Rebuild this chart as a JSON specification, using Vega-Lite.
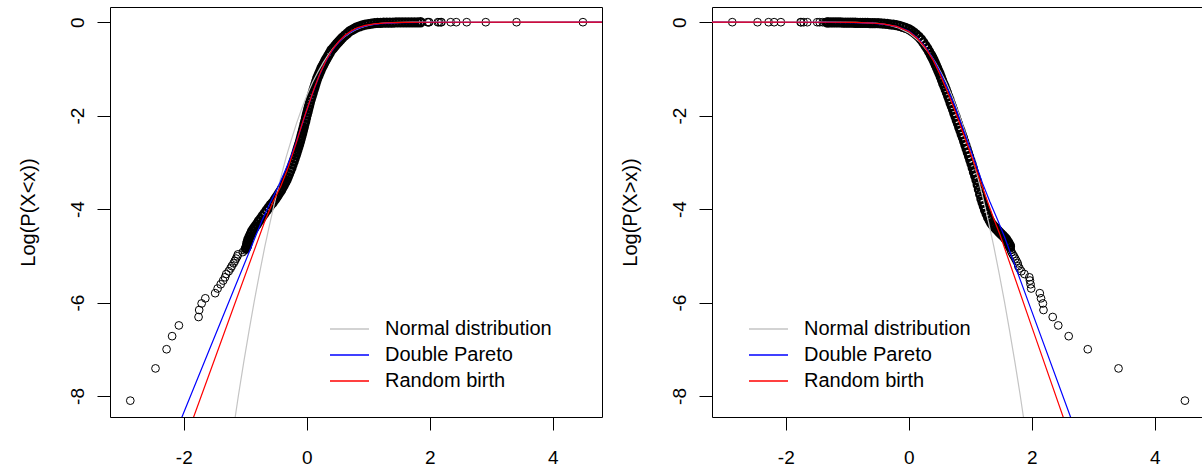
{
"$schema": "https://vega.github.io/schema/vega-lite/v6.json",
"background": "white",
"padding": {"left": 17, "top": 6, "right": 0, "bottom": 0},
"config": {
 "view": {"stroke": "black", "strokeWidth": 1},
 "font": "Liberation Sans",
 "axis": {"grid": false, "domain": false, "tickColor": "black", "tickSize": 13, "tickWidth": 1, "labelColor": "black", "labelFontSize": 19, "labelFont": "Liberation Sans", "titleFont": "Liberation Sans", "titleFontSize": 20, "titleFontWeight": "normal", "titleColor": "black", "labelExpr": "'' + datum.value"},
 "axisX": {"labelPadding": 18},
 "axisY": {"labelPadding": 10, "titlePadding": 30},
 "legend": {"orient": "none", "symbolType": "stroke", "symbolSize": 1521, "symbolStrokeWidth": 1.3, "symbolOpacity": 1, "labelFontSize": 20, "labelFont": "Liberation Sans", "labelColor": "black", "labelOffset": 15, "labelLimit": 0, "clipHeight": 20, "rowPadding": 6, "padding": 0},
 "concat": {"spacing": 16}
},
"datasets": {
 "lowSparse": [
  {"x":-2.87,"y":-8.10},{"x":-2.46,"y":-7.41},{"x":-2.28,"y":-7.00},{"x":-2.19,"y":-6.72},{"x":-2.08,"y":-6.49},{"x":-1.76,"y":-6.31},{"x":-1.75,"y":-6.16},{"x":-1.71,"y":-6.02},{"x":-1.65,"y":-5.91},{"x":-1.49,"y":-5.80},
  {"x":-1.45,"y":-5.70},{"x":-1.40,"y":-5.61},{"x":-1.36,"y":-5.53},{"x":-1.33,"y":-5.46},{"x":-1.31,"y":-5.39},{"x":-1.27,"y":-5.33},{"x":-1.24,"y":-5.27},{"x":-1.22,"y":-5.22},{"x":-1.19,"y":-5.16},{"x":-1.17,"y":-5.11},
  {"x":-1.15,"y":-5.06},{"x":-1.13,"y":-5.01},{"x":-1.12,"y":-4.97},{"x":-1.04,"y":-4.92},{"x":-1.01,"y":-4.88},
  {"x":1.96,"y":-0.001},{"x":1.98,"y":-0.0009},{"x":1.99,"y":-0.0008},{"x":2.13,"y":-0.0007},{"x":2.15,"y":-0.0006},{"x":2.18,"y":-0.0005},{"x":2.19,"y":-0.0004},
  {"x":2.34,"y":-0.0004},{"x":2.43,"y":-0.0003},{"x":2.60,"y":-0.0002},{"x":2.91,"y":-0.0002},{"x":3.41,"y":-0.0001},{"x":4.49,"y":0.0}
 ],
 "lowBand": [
  {"x":-0.99,"y":-4.84},{"x":-0.975,"y":-4.80},{"x":-0.97,"y":-4.77},{"x":-0.965,"y":-4.73},{"x":-0.96,"y":-4.70},
  {"x":-0.95,"y":-4.65},{"x":-0.93,"y":-4.59},{"x":-0.91,"y":-4.53},{"x":-0.89,"y":-4.47},{"x":-0.863,"y":-4.42},{"x":-0.837,"y":-4.37},{"x":-0.81,"y":-4.32},{"x":-0.78,"y":-4.26},{"x":-0.75,"y":-4.21},{"x":-0.72,"y":-4.15},
  {"x":-0.687,"y":-4.09},{"x":-0.653,"y":-4.03},{"x":-0.62,"y":-3.97},{"x":-0.587,"y":-3.91},{"x":-0.553,"y":-3.86},{"x":-0.52,"y":-3.80},{"x":-0.495,"y":-3.75},{"x":-0.47,"y":-3.70},{"x":-0.445,"y":-3.65},{"x":-0.42,"y":-3.60},
  {"x":-0.398,"y":-3.545},{"x":-0.375,"y":-3.49},{"x":-0.353,"y":-3.435},{"x":-0.33,"y":-3.38},{"x":-0.31,"y":-3.315},{"x":-0.29,"y":-3.25},{"x":-0.27,"y":-3.185},{"x":-0.25,"y":-3.12},{"x":-0.233,"y":-3.05},{"x":-0.215,"y":-2.985},
  {"x":-0.198,"y":-2.92},{"x":-0.18,"y":-2.85},{"x":-0.166,"y":-2.79},{"x":-0.152,"y":-2.73},{"x":-0.138,"y":-2.67},{"x":-0.124,"y":-2.61},{"x":-0.11,"y":-2.55},{"x":-0.098,"y":-2.49},{"x":-0.086,"y":-2.43},{"x":-0.074,"y":-2.37},
  {"x":-0.062,"y":-2.31},{"x":-0.05,"y":-2.25},{"x":-0.038,"y":-2.18},{"x":-0.025,"y":-2.12},{"x":-0.013,"y":-2.05},{"x":0.0,"y":-1.98},{"x":0.013,"y":-1.915},{"x":0.025,"y":-1.85},{"x":0.038,"y":-1.785},{"x":0.05,"y":-1.72},
  {"x":0.065,"y":-1.65},{"x":0.08,"y":-1.585},{"x":0.095,"y":-1.52},{"x":0.11,"y":-1.45},{"x":0.125,"y":-1.39},{"x":0.14,"y":-1.325},{"x":0.155,"y":-1.26},{"x":0.17,"y":-1.20},{"x":0.188,"y":-1.145},{"x":0.205,"y":-1.09},
  {"x":0.223,"y":-1.035},{"x":0.24,"y":-0.98},{"x":0.26,"y":-0.93},{"x":0.28,"y":-0.88},{"x":0.30,"y":-0.83},{"x":0.32,"y":-0.78},{"x":0.347,"y":-0.72},{"x":0.373,"y":-0.66},{"x":0.40,"y":-0.60},{"x":0.43,"y":-0.553},
  {"x":0.46,"y":-0.507},{"x":0.49,"y":-0.46},{"x":0.52,"y":-0.417},{"x":0.55,"y":-0.373},{"x":0.58,"y":-0.33},{"x":0.62,"y":-0.283},{"x":0.66,"y":-0.237},{"x":0.70,"y":-0.19},{"x":0.737,"y":-0.163},{"x":0.773,"y":-0.137},
  {"x":0.81,"y":-0.11},{"x":0.857,"y":-0.09},{"x":0.903,"y":-0.07},{"x":0.95,"y":-0.05},{"x":1.0,"y":-0.04},{"x":1.05,"y":-0.03},{"x":1.10,"y":-0.02},{"x":1.15,"y":-0.016},{"x":1.2,"y":-0.013},{"x":1.25,"y":-0.011},
  {"x":1.3,"y":-0.009},{"x":1.35,"y":-0.008},{"x":1.4,"y":-0.007},{"x":1.45,"y":-0.006},{"x":1.5,"y":-0.005},{"x":1.55,"y":-0.004},{"x":1.6,"y":-0.0035},{"x":1.65,"y":-0.003},{"x":1.7,"y":-0.0025},{"x":1.75,"y":-0.002},
  {"x":1.8,"y":-0.0018},{"x":1.85,"y":-0.0015}
 ],
 "highSparse": [
  {"x":-2.87,"y":0.0},{"x":-2.46,"y":-0.0001},{"x":-2.28,"y":-0.0002},{"x":-2.19,"y":-0.0002},{"x":-2.08,"y":-0.0003},{"x":-1.76,"y":-0.0004},{"x":-1.75,"y":-0.0004},{"x":-1.71,"y":-0.0005},{"x":-1.65,"y":-0.0006},{"x":-1.49,"y":-0.0007},
  {"x":-1.45,"y":-0.0008},{"x":-1.40,"y":-0.0009},{"x":-1.36,"y":-0.001},
  {"x":1.65,"y":-4.84},{"x":1.66,"y":-4.88},{"x":1.67,"y":-4.92},{"x":1.69,"y":-4.97},{"x":1.71,"y":-5.01},{"x":1.73,"y":-5.06},
  {"x":1.75,"y":-5.11},{"x":1.77,"y":-5.16},{"x":1.78,"y":-5.22},{"x":1.80,"y":-5.27},{"x":1.83,"y":-5.33},{"x":1.88,"y":-5.39},{"x":1.96,"y":-5.46},{"x":1.97,"y":-5.53},{"x":1.98,"y":-5.61},{"x":1.99,"y":-5.70},
  {"x":2.13,"y":-5.80},{"x":2.15,"y":-5.91},{"x":2.18,"y":-6.02},{"x":2.19,"y":-6.16},{"x":2.34,"y":-6.31},{"x":2.43,"y":-6.49},{"x":2.60,"y":-6.72},{"x":2.91,"y":-7.00},{"x":3.41,"y":-7.41},{"x":4.49,"y":-8.10}
 ],
 "highBand": [
  {"x":-1.33,"y":-0.002},{"x":-1.31,"y":-0.003},{"x":-1.27,"y":-0.003},{"x":-1.23,"y":-0.004},{"x":-1.19,"y":-0.005},{"x":-1.15,"y":-0.005},{"x":-1.11,"y":-0.006},{"x":-1.07,"y":-0.007},{"x":-1.03,"y":-0.008},{"x":-0.99,"y":-0.009},{"x":-0.95,"y":-0.010},
  {"x":-0.91,"y":-0.011},{"x":-0.87,"y":-0.012},{"x":-0.83,"y":-0.013},{"x":-0.79,"y":-0.014},{"x":-0.75,"y":-0.015},{"x":-0.71,"y":-0.016},{"x":-0.67,"y":-0.017},{"x":-0.63,"y":-0.018},{"x":-0.59,"y":-0.019},{"x":-0.55,"y":-0.02},
  {"x":-0.5,"y":-0.022},{"x":-0.45,"y":-0.026},{"x":-0.4,"y":-0.03},{"x":-0.35,"y":-0.037},{"x":-0.3,"y":-0.045},{"x":-0.25,"y":-0.054},{"x":-0.2,"y":-0.065},{"x":-0.15,"y":-0.08},{"x":-0.1,"y":-0.10},{"x":-0.05,"y":-0.12},
  {"x":0.0,"y":-0.15},{"x":0.04,"y":-0.18},{"x":0.08,"y":-0.22},{"x":0.12,"y":-0.26},{"x":0.16,"y":-0.31},{"x":0.2,"y":-0.37},{"x":0.235,"y":-0.43},{"x":0.27,"y":-0.50},{"x":0.30,"y":-0.56},{"x":0.33,"y":-0.63},
  {"x":0.36,"y":-0.70},{"x":0.38,"y":-0.75},{"x":0.40,"y":-0.80},{"x":0.42,"y":-0.86},{"x":0.44,"y":-0.92},{"x":0.46,"y":-0.98},{"x":0.48,"y":-1.04},{"x":0.50,"y":-1.10},{"x":0.52,"y":-1.17},{"x":0.54,"y":-1.24},
  {"x":0.56,"y":-1.31},{"x":0.58,"y":-1.37},{"x":0.60,"y":-1.44},{"x":0.62,"y":-1.51},{"x":0.64,"y":-1.58},{"x":0.66,"y":-1.65},{"x":0.68,"y":-1.73},{"x":0.70,"y":-1.80},{"x":0.72,"y":-1.87},{"x":0.74,"y":-1.95},
  {"x":0.76,"y":-2.02},{"x":0.78,"y":-2.10},{"x":0.80,"y":-2.17},{"x":0.82,"y":-2.25},{"x":0.84,"y":-2.32},{"x":0.86,"y":-2.40},{"x":0.88,"y":-2.47},{"x":0.90,"y":-2.55},{"x":0.92,"y":-2.63},{"x":0.94,"y":-2.71},
  {"x":0.96,"y":-2.79},{"x":0.98,"y":-2.87},{"x":1.00,"y":-2.95},{"x":1.02,"y":-3.03},{"x":1.04,"y":-3.12},{"x":1.06,"y":-3.21},{"x":1.08,"y":-3.29},{"x":1.10,"y":-3.38},{"x":1.12,"y":-3.48},{"x":1.14,"y":-3.58},
  {"x":1.16,"y":-3.68},{"x":1.18,"y":-3.78},{"x":1.20,"y":-3.86},{"x":1.22,"y":-3.94},{"x":1.24,"y":-4.02},{"x":1.265,"y":-4.10},{"x":1.29,"y":-4.18},{"x":1.315,"y":-4.24},{"x":1.34,"y":-4.30},{"x":1.37,"y":-4.35},
  {"x":1.40,"y":-4.39},{"x":1.425,"y":-4.43},{"x":1.45,"y":-4.46},{"x":1.475,"y":-4.50},{"x":1.50,"y":-4.53},{"x":1.53,"y":-4.57},{"x":1.56,"y":-4.61},{"x":1.585,"y":-4.65},
  {"x":1.61,"y":-4.70},{"x":1.62,"y":-4.73},{"x":1.64,"y":-4.77},{"x":1.645,"y":-4.80}
 ],
 "lowLines": [
  {"model":"Normal distribution","x":-1.198,"y":-8.75},{"model":"Normal distribution","x":-1.155,"y":-8.37},{"model":"Normal distribution","x":-1.112,"y":-7.99},{"model":"Normal distribution","x":-1.026,"y":-7.28},{"model":"Normal distribution","x":-0.94,"y":-6.61},{"model":"Normal distribution","x":-0.854,"y":-5.97},{"model":"Normal distribution","x":-0.768,"y":-5.37},{"model":"Normal distribution","x":-0.682,"y":-4.80},{"model":"Normal distribution","x":-0.596,"y":-4.28},{"model":"Normal distribution","x":-0.51,"y":-3.78},{"model":"Normal distribution","x":-0.424,"y":-3.33},{"model":"Normal distribution","x":-0.338,"y":-2.90},{"model":"Normal distribution","x":-0.252,"y":-2.52},{"model":"Normal distribution","x":-0.166,"y":-2.16},{"model":"Normal distribution","x":-0.08,"y":-1.84},{"model":"Normal distribution","x":0.006,"y":-1.55},{"model":"Normal distribution","x":0.092,"y":-1.29},{"model":"Normal distribution","x":0.178,"y":-1.07},{"model":"Normal distribution","x":0.264,"y":-0.87},{"model":"Normal distribution","x":0.35,"y":-0.693},{"model":"Normal distribution","x":0.436,"y":-0.546},{"model":"Normal distribution","x":0.522,"y":-0.42},{"model":"Normal distribution","x":0.608,"y":-0.32},{"model":"Normal distribution","x":0.694,"y":-0.238},{"model":"Normal distribution","x":0.78,"y":-0.173},{"model":"Normal distribution","x":0.866,"y":-0.122},{"model":"Normal distribution","x":0.952,"y":-0.084},{"model":"Normal distribution","x":1.038,"y":-0.056},{"model":"Normal distribution","x":1.124,"y":-0.037},{"model":"Normal distribution","x":1.21,"y":-0.023},{"model":"Normal distribution","x":1.382,"y":-0.008},{"model":"Normal distribution","x":1.554,"y":-0.0026},{"model":"Normal distribution","x":1.726,"y":-0.0007},{"model":"Normal distribution","x":2.07,"y":0.0},{"model":"Normal distribution","x":5.0,"y":0.0},
  {"model":"Double Pareto","x":-2.2,"y":-9.0},{"model":"Double Pareto","x":-2.03,"y":-8.45},{"model":"Double Pareto","x":-1.6,"y":-7.06},{"model":"Double Pareto","x":-1.2,"y":-5.77},{"model":"Double Pareto","x":-0.9,"y":-4.80},{"model":"Double Pareto","x":-0.73,"y":-4.25},{"model":"Double Pareto","x":-0.6,"y":-3.88},{"model":"Double Pareto","x":-0.45,"y":-3.48},{"model":"Double Pareto","x":-0.3,"y":-3.02},{"model":"Double Pareto","x":-0.18,"y":-2.6},{"model":"Double Pareto","x":-0.08,"y":-2.2},{"model":"Double Pareto","x":0.0,"y":-1.88},{"model":"Double Pareto","x":0.1,"y":-1.5},{"model":"Double Pareto","x":0.2,"y":-1.15},{"model":"Double Pareto","x":0.3,"y":-0.86},{"model":"Double Pareto","x":0.4,"y":-0.63},{"model":"Double Pareto","x":0.5,"y":-0.46},{"model":"Double Pareto","x":0.6,"y":-0.32},{"model":"Double Pareto","x":0.7,"y":-0.22},{"model":"Double Pareto","x":0.8,"y":-0.15},{"model":"Double Pareto","x":0.9,"y":-0.1},{"model":"Double Pareto","x":1.0,"y":-0.065},{"model":"Double Pareto","x":1.2,"y":-0.03},{"model":"Double Pareto","x":1.5,"y":-0.01},{"model":"Double Pareto","x":2.0,"y":-0.003},{"model":"Double Pareto","x":5.0,"y":0.0},
  {"model":"Random birth","x":-2.0,"y":-9.03},{"model":"Random birth","x":-1.84,"y":-8.45},{"model":"Random birth","x":-1.5,"y":-7.22},{"model":"Random birth","x":-1.1,"y":-5.77},{"model":"Random birth","x":-0.68,"y":-4.25},{"model":"Random birth","x":-0.55,"y":-3.85},{"model":"Random birth","x":-0.42,"y":-3.5},{"model":"Random birth","x":-0.3,"y":-3.1},{"model":"Random birth","x":-0.18,"y":-2.62},{"model":"Random birth","x":-0.07,"y":-2.15},{"model":"Random birth","x":0.02,"y":-1.8},{"model":"Random birth","x":0.12,"y":-1.42},{"model":"Random birth","x":0.22,"y":-1.08},{"model":"Random birth","x":0.32,"y":-0.80},{"model":"Random birth","x":0.42,"y":-0.58},{"model":"Random birth","x":0.52,"y":-0.41},{"model":"Random birth","x":0.62,"y":-0.28},{"model":"Random birth","x":0.72,"y":-0.19},{"model":"Random birth","x":0.82,"y":-0.12},{"model":"Random birth","x":0.95,"y":-0.07},{"model":"Random birth","x":1.1,"y":-0.035},{"model":"Random birth","x":1.3,"y":-0.015},{"model":"Random birth","x":1.6,"y":-0.004},{"model":"Random birth","x":2.0,"y":-0.001},{"model":"Random birth","x":5.0,"y":0.0}
 ],
 "highLines": [
  {"model":"Normal distribution","x":-3.4,"y":0.0},{"model":"Normal distribution","x":-1.37,"y":0.0},{"model":"Normal distribution","x":-0.854,"y":-0.0026},{"model":"Normal distribution","x":-0.51,"y":-0.023},{"model":"Normal distribution","x":-0.338,"y":-0.056},{"model":"Normal distribution","x":-0.166,"y":-0.122},{"model":"Normal distribution","x":0.006,"y":-0.238},{"model":"Normal distribution","x":0.178,"y":-0.42},{"model":"Normal distribution","x":0.35,"y":-0.693},{"model":"Normal distribution","x":0.436,"y":-0.87},{"model":"Normal distribution","x":0.522,"y":-1.07},{"model":"Normal distribution","x":0.608,"y":-1.29},{"model":"Normal distribution","x":0.694,"y":-1.55},{"model":"Normal distribution","x":0.78,"y":-1.84},{"model":"Normal distribution","x":0.866,"y":-2.16},{"model":"Normal distribution","x":0.952,"y":-2.52},{"model":"Normal distribution","x":1.038,"y":-2.90},{"model":"Normal distribution","x":1.124,"y":-3.33},{"model":"Normal distribution","x":1.21,"y":-3.78},{"model":"Normal distribution","x":1.296,"y":-4.28},{"model":"Normal distribution","x":1.382,"y":-4.80},{"model":"Normal distribution","x":1.468,"y":-5.37},{"model":"Normal distribution","x":1.554,"y":-5.97},{"model":"Normal distribution","x":1.64,"y":-6.61},{"model":"Normal distribution","x":1.726,"y":-7.28},{"model":"Normal distribution","x":1.812,"y":-7.99},{"model":"Normal distribution","x":1.855,"y":-8.37},{"model":"Normal distribution","x":1.898,"y":-8.75},
  {"model":"Double Pareto","x":-3.4,"y":0.0},{"model":"Double Pareto","x":-1.3,"y":-0.002},{"model":"Double Pareto","x":-0.9,"y":-0.008},{"model":"Double Pareto","x":-0.6,"y":-0.022},{"model":"Double Pareto","x":-0.4,"y":-0.045},{"model":"Double Pareto","x":-0.2,"y":-0.09},{"model":"Double Pareto","x":0.0,"y":-0.19},{"model":"Double Pareto","x":0.15,"y":-0.35},{"model":"Double Pareto","x":0.28,"y":-0.55},{"model":"Double Pareto","x":0.4,"y":-0.8},{"model":"Double Pareto","x":0.52,"y":-1.1},{"model":"Double Pareto","x":0.64,"y":-1.45},{"model":"Double Pareto","x":0.75,"y":-1.8},{"model":"Double Pareto","x":0.86,"y":-2.2},{"model":"Double Pareto","x":0.97,"y":-2.6},{"model":"Double Pareto","x":1.08,"y":-3.0},{"model":"Double Pareto","x":1.2,"y":-3.45},{"model":"Double Pareto","x":1.32,"y":-3.85},{"model":"Double Pareto","x":1.45,"y":-4.25},{"model":"Double Pareto","x":1.56,"y":-4.61},{"model":"Double Pareto","x":2.0,"y":-6.19},{"model":"Double Pareto","x":2.63,"y":-8.45},{"model":"Double Pareto","x":2.8,"y":-9.06},
  {"model":"Random birth","x":-3.4,"y":0.0},{"model":"Random birth","x":-1.3,"y":-0.0015},{"model":"Random birth","x":-0.9,"y":-0.006},{"model":"Random birth","x":-0.6,"y":-0.018},{"model":"Random birth","x":-0.4,"y":-0.04},{"model":"Random birth","x":-0.2,"y":-0.09},{"model":"Random birth","x":0.0,"y":-0.2},{"model":"Random birth","x":0.14,"y":-0.35},{"model":"Random birth","x":0.27,"y":-0.55},{"model":"Random birth","x":0.39,"y":-0.8},{"model":"Random birth","x":0.5,"y":-1.1},{"model":"Random birth","x":0.61,"y":-1.43},{"model":"Random birth","x":0.72,"y":-1.79},{"model":"Random birth","x":0.83,"y":-2.18},{"model":"Random birth","x":0.94,"y":-2.58},{"model":"Random birth","x":1.05,"y":-2.98},{"model":"Random birth","x":1.16,"y":-3.4},{"model":"Random birth","x":1.27,"y":-3.8},{"model":"Random birth","x":1.38,"y":-4.2},{"model":"Random birth","x":1.48,"y":-4.54},{"model":"Random birth","x":2.0,"y":-6.52},{"model":"Random birth","x":2.51,"y":-8.45},{"model":"Random birth","x":2.66,"y":-9.02}
 ]
},
"resolve": {"scale": {"stroke": "independent"}, "legend": {"stroke": "independent"}},
"hconcat": [
 {
  "width": 492, "height": 410,
  "layer": [
   {"data": {"name": "lowSparse"},
    "mark": {"type": "point", "shape": "circle", "filled": false, "color": "black", "strokeWidth": 1, "size": 60, "opacity": 1, "clip": true},
    "encoding": {
     "x": {"field": "x", "type": "quantitative", "scale": {"domain": [-3.2, 4.8], "nice": false, "zero": false}, "axis": {"values": [-2, 0, 2, 4], "title": null}},
     "y": {"field": "y", "type": "quantitative", "scale": {"domain": [-8.45, 0.325], "nice": false, "zero": false}, "axis": {"values": [0, -2, -4, -6, -8], "title": "Log(P(X<x))", "labelAngle": -90}}
    }},
   {"data": {"name": "lowBand"},
    "mark": {"type": "point", "shape": "circle", "filled": false, "color": "black", "strokeWidth": 2.4, "size": 62, "opacity": 1, "clip": true},
    "encoding": {
     "x": {"field": "x", "type": "quantitative"},
     "y": {"field": "y", "type": "quantitative"}
    }},
   {"data": {"name": "lowLines"},
    "mark": {"type": "line", "strokeWidth": 1.2, "clip": true},
    "encoding": {
     "x": {"field": "x", "type": "quantitative"},
     "y": {"field": "y", "type": "quantitative"},
     "stroke": {"field": "model", "type": "nominal", "scale": {"domain": ["Normal distribution", "Double Pareto", "Random birth"], "range": ["#C4C4C4", "#0000FF", "#FF0000"]}, "legend": {"title": null, "legendX": 219, "legendY": 312}}
    }}
  ]
 },
 {
  "width": 492, "height": 410,
  "layer": [
   {"data": {"name": "highSparse"},
    "mark": {"type": "point", "shape": "circle", "filled": false, "color": "black", "strokeWidth": 1, "size": 60, "opacity": 1, "clip": true},
    "encoding": {
     "x": {"field": "x", "type": "quantitative", "scale": {"domain": [-3.2, 4.8], "nice": false, "zero": false}, "axis": {"values": [-2, 0, 2, 4], "title": null}},
     "y": {"field": "y", "type": "quantitative", "scale": {"domain": [-8.45, 0.325], "nice": false, "zero": false}, "axis": {"values": [0, -2, -4, -6, -8], "title": "Log(P(X>x))", "labelAngle": -90}}
    }},
   {"data": {"name": "highBand"},
    "mark": {"type": "point", "shape": "circle", "filled": false, "color": "black", "strokeWidth": 2.4, "size": 62, "opacity": 1, "clip": true},
    "encoding": {
     "x": {"field": "x", "type": "quantitative"},
     "y": {"field": "y", "type": "quantitative"}
    }},
   {"data": {"name": "highLines"},
    "mark": {"type": "line", "strokeWidth": 1.2, "clip": true},
    "encoding": {
     "x": {"field": "x", "type": "quantitative"},
     "y": {"field": "y", "type": "quantitative"},
     "stroke": {"field": "model", "type": "nominal", "scale": {"domain": ["Normal distribution", "Double Pareto", "Random birth"], "range": ["#C4C4C4", "#0000FF", "#FF0000"]}, "legend": {"title": null, "legendX": 36, "legendY": 312}}
    }}
  ]
 }
]
}
